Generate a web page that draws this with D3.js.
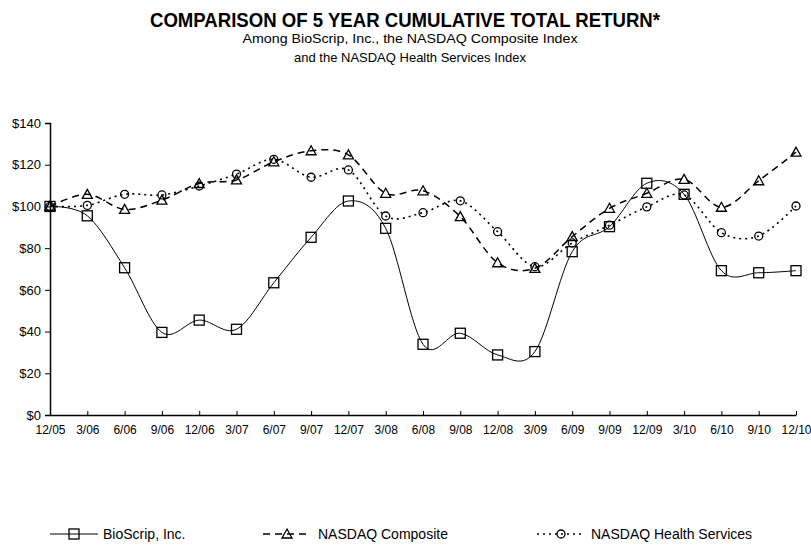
<!DOCTYPE html>
<html>
<head>
<meta charset="utf-8">
<script src="https://cdn.jsdelivr.net/npm/d3@7"></script>
<style>
  body { margin: 0; background: #fff; }
  svg { display: block; font-family: Arial, "Liberation Sans", sans-serif; }
</style>
</head>
<body>
<svg width="811" height="546"></svg>
<script>
var quarters = ["12/05","3/06","6/06","9/06","12/06","3/07","6/07","9/07","12/07","3/08","6/08","9/08","12/08","3/09","6/09","9/09","12/09","3/10","6/10","9/10","12/10"];
var bioscrip = [100,95.5,70.6,39.6,45.5,41.1,63.4,85.2,102.6,89.5,33.9,39.2,28.8,30.4,78.3,90.3,111.1,105.8,69.2,68.2,69.2];
var nasdaqComp = [100,105.8,98.6,103,111,112.7,121.4,126.7,124.7,106.3,107.5,95.1,73,70.3,85.5,99.1,106.3,113,99.6,112.3,126];
var nasdaqHealth = [100,100.5,105.8,105.5,109.8,115.5,122.6,114,117.5,95.4,97,102.7,87.9,71.1,82.5,91,99.8,105.5,87.4,85.8,100.2];
var yTicks = [0,20,40,60,80,100,120,140];

var svg = d3.select("svg"),
    width = +svg.attr("width"),
    height = +svg.attr("height");

var x = d3.scalePoint().domain(quarters).range([50, 796]);
var y = d3.scaleLinear().domain([0, 140]).range([415, 123]);

// titles
svg.append("text").attr("x", 405).attr("y", 27).attr("text-anchor", "middle")
  .attr("font-size", 21).attr("font-weight", "bold")
  .attr("textLength", 510).attr("lengthAdjust", "spacingAndGlyphs")
  .text("COMPARISON OF 5 YEAR CUMULATIVE TOTAL RETURN*");
svg.append("text").attr("x", 410).attr("y", 43).attr("text-anchor", "middle")
  .attr("font-size", 13).attr("textLength", 335).attr("lengthAdjust", "spacingAndGlyphs")
  .text("Among BioScrip, Inc., the NASDAQ Composite Index");
svg.append("text").attr("x", 410).attr("y", 62).attr("text-anchor", "middle")
  .attr("font-size", 13)
  .text("and the NASDAQ Health Services Index");

// axes
var yAxis = svg.append("g").attr("transform", "translate(50,0)")
  .call(d3.axisLeft(y).tickValues(yTicks).tickSize(5).tickPadding(4)
    .tickFormat(function(d) { return "$" + d; }));
var xAxis = svg.append("g").attr("transform", "translate(0,415)")
  .call(d3.axisBottom(x).tickSizeInner(-4).tickSizeOuter(0).tickPadding(10));
[yAxis, xAxis].forEach(function(a) {
  a.select(".domain").attr("stroke", "#000").attr("stroke-width", 1.5);
  a.selectAll(".tick line").attr("stroke", "#000");
  a.selectAll("text").attr("fill", "#000").attr("font-size", 12)
    .attr("font-family", "Arial, 'Liberation Sans', sans-serif");
});
yAxis.selectAll("text").attr("font-size", 13);

var series = [
  { name: "BioScrip, Inc.", values: bioscrip, dash: null, width: 1, marker: "square", lx: 50, tx: 103 },
  { name: "NASDAQ Composite", values: nasdaqComp, dash: "7,5", width: 1.5, marker: "triangle", lx: 263, tx: 318 },
  { name: "NASDAQ Health Services", values: nasdaqHealth, dash: "2,4", width: 1.6, marker: "circle", lx: 537, tx: 591 }
];

var line = d3.line()
  .x(function(d, i) { return x(quarters[i]); })
  .y(function(d) { return y(d); })
  .curve(d3.curveCatmullRom.alpha(0));

function drawMarker(g, type, cx, cy) {
  if (type === "square") {
    g.append("rect").attr("x", cx - 5).attr("y", cy - 5).attr("width", 10).attr("height", 10)
      .attr("fill", "none").attr("stroke", "#000").attr("stroke-width", 1.3);
  } else if (type === "triangle") {
    g.append("path").attr("d", "M" + cx + "," + (cy - 5) + "L" + (cx + 5) + "," + (cy + 4) + "L" + (cx - 5) + "," + (cy + 4) + "Z")
      .attr("fill", "none").attr("stroke", "#000").attr("stroke-width", 1.3);
  } else {
    g.append("circle").attr("cx", cx).attr("cy", cy).attr("r", 4)
      .attr("fill", "none").attr("stroke", "#000").attr("stroke-width", 1.3);
  }
}

series.forEach(function(s) {
  svg.append("path").datum(s.values).attr("d", line)
    .attr("fill", "none").attr("stroke", "#000").attr("stroke-width", s.width)
    .attr("stroke-dasharray", s.dash);
  var g = svg.append("g");
  s.values.forEach(function(v, i) { drawMarker(g, s.marker, x(quarters[i]), y(v)); });

  // legend
  var lg = svg.append("g");
  lg.append("line").attr("x1", s.lx).attr("x2", s.lx + 48).attr("y1", 534).attr("y2", 534)
    .attr("stroke", "#000").attr("stroke-width", s.width).attr("stroke-dasharray", s.dash);
  drawMarker(lg, s.marker, s.lx + 24, 534);
  lg.append("text").attr("x", s.tx).attr("y", 539).attr("font-size", 14).text(s.name);
});
</script>
</body>
</html>
